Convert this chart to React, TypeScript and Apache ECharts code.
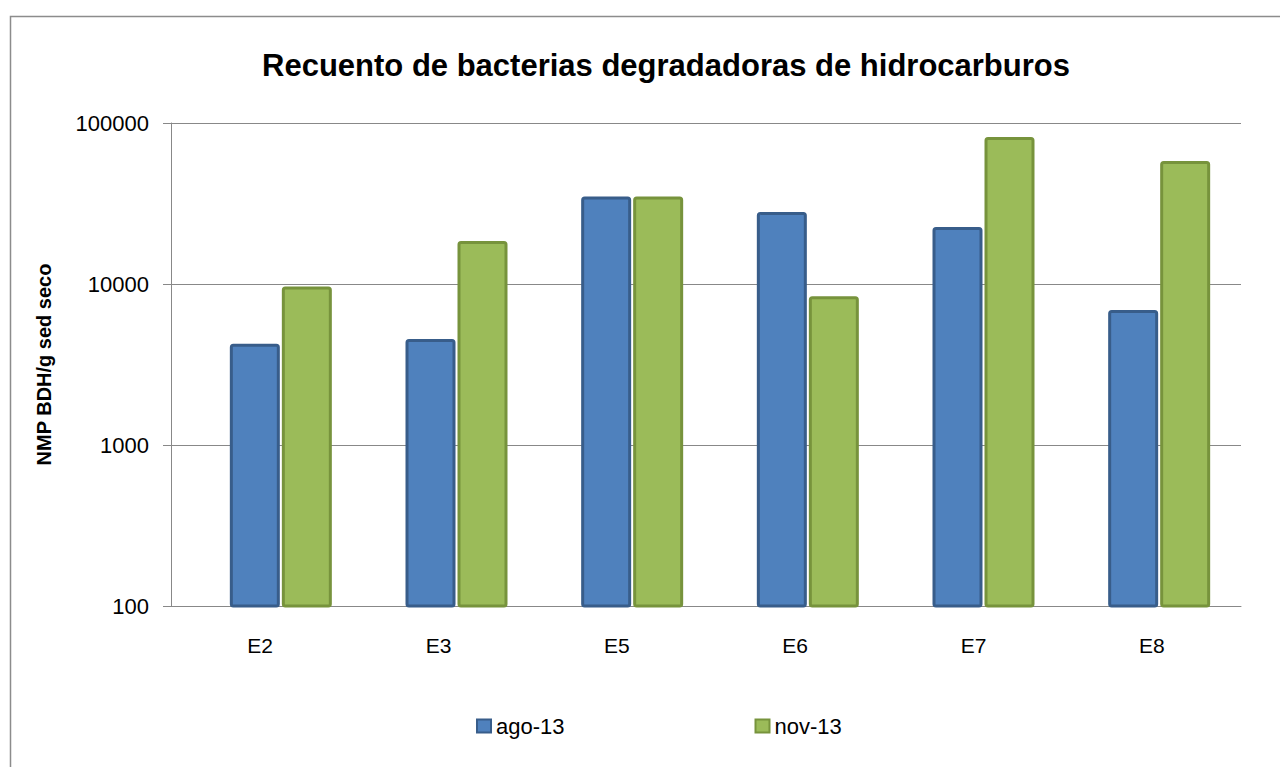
import React, { useEffect, useRef } from "react";
import * as echarts from "echarts";

const categories = ["E2", "E3", "E5", "E6", "E7", "E8"];
const agoValues = [4250, 4550, 35000, 28000, 22600, 6900];
const novValues = [9650, 18500, 35000, 8400, 82000, 58000];
const seriesNames = ["ago-13", "nov-13"];
const titleText = "Recuento de bacterias degradadoras de hidrocarburos";
const yAxisName = "NMP BDH/g sed seco";
const yMin = 100;
const yMax = 100000;

const FONT = "'Liberation Sans', Arial, sans-serif";

export default function App() {
  const ref = useRef<HTMLDivElement>(null);
  useEffect(() => {
    if (!ref.current) return;
    const chart = echarts.init(ref.current, undefined, { renderer: "svg" });
    chart.setOption({
      animation: false,
      backgroundColor: "#ffffff",
      textStyle: { fontFamily: FONT },
      graphic: [
        {
          type: "rect",
          shape: { x: 10.5, y: 16.5, width: 1300, height: 800 },
          style: { fill: "none", stroke: "#8c8c8c", lineWidth: 1.5 },
          silent: true,
          z: -10,
        },
      ],
      title: {
        text: titleText,
        left: 661,
        textAlign: "center",
        top: 45,
        textStyle: { fontFamily: FONT, fontWeight: "bold", fontSize: 31, color: "#000" },
      },
      legend: {
        data: seriesNames,
        left: 471,
        top: 710,
        itemWidth: 14,
        itemHeight: 13,
        itemGap: 190,
        icon: "rect",
        textStyle: { fontFamily: FONT, fontSize: 22, color: "#000" },
      },
      grid: [
        { left: 171, right: 39, top: 123, bottom: 161 },
        { left: 193, right: 33, top: 123, bottom: 161 },
      ],
      xAxis: [
        {
          type: "category",
          gridIndex: 0,
          data: categories,
          axisLine: { lineStyle: { color: "#888", width: 1 } },
          axisTick: { show: false },
          axisLabel: { fontFamily: FONT, fontSize: 21, color: "#000", margin: 29 },
        },
        {
          type: "category",
          gridIndex: 1,
          data: categories,
          show: false,
        },
      ],
      yAxis: [
        {
          type: "log",
          gridIndex: 0,
          logBase: 10,
          min: yMin,
          max: yMax,
          name: yAxisName,
          nameLocation: "middle",
          nameGap: 117,
          nameRotate: 90,
          nameTextStyle: { fontFamily: FONT, fontWeight: "bold", fontSize: 20, color: "#000" },
          axisLine: { show: true, lineStyle: { color: "#888", width: 1 } },
          axisTick: { show: true, length: 8, lineStyle: { color: "#888" } },
          splitLine: { show: true, lineStyle: { color: "#888", width: 1 } },
          axisLabel: {
            fontFamily: FONT,
            fontSize: 22,
            color: "#000",
            margin: 22,
            formatter: (v: number) => String(Math.round(v)),
          },
        },
        {
          type: "log",
          gridIndex: 1,
          logBase: 10,
          min: yMin,
          max: yMax,
          show: false,
          splitLine: { show: false },
        },
      ],
      series: [
        {
          name: seriesNames[0],
          type: "bar",
          xAxisIndex: 1,
          yAxisIndex: 1,
          data: agoValues,
          barWidth: 50,
          barGap: "4%",
          itemStyle: {
            color: "#4F81BD",
            borderColor: "#385D8A",
            borderWidth: 3,
            borderRadius: 2,
          },
        },
        {
          name: seriesNames[1],
          type: "bar",
          xAxisIndex: 1,
          yAxisIndex: 1,
          data: novValues,
          barWidth: 50,
          itemStyle: {
            color: "#9BBB59",
            borderColor: "#77933C",
            borderWidth: 3,
            borderRadius: 2,
          },
        },
      ],
    });
    return () => chart.dispose();
  }, []);
  return <div ref={ref} style={{ width: 1280, height: 767, position: "absolute", left: 0, top: 0 }} />;
}
